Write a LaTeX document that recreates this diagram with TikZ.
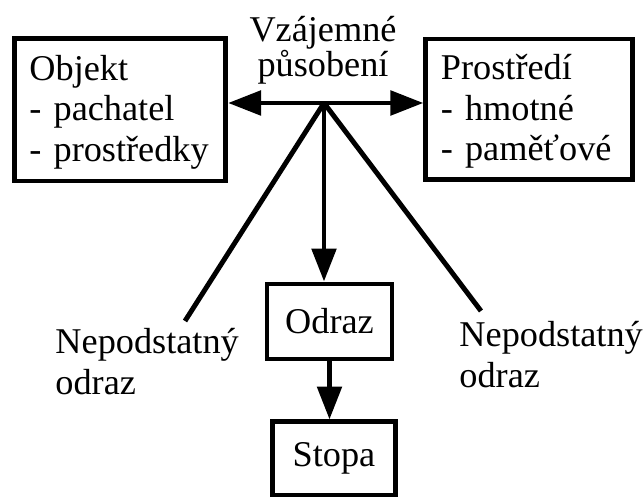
\documentclass[tikz,border=0pt]{standalone}
\usepackage{fontspec}
\setmainfont{Liberation Serif}
\usetikzlibrary{arrows.meta}
\newcommand{\firstline}{\rule{0pt}{10.6pt}}

\begin{document}
\begin{tikzpicture}[x=0.364pt,y=-0.364pt,line width=1.8pt,
  every node/.style={font=\fontsize{13.2}{14.7}\selectfont},
  box/.style={draw,rectangle,line width=1.8pt,inner sep=0pt},
  listbox/.style={box,align=left,inner xsep=5.5pt,inner ysep=0pt},
  sidetext/.style={inner sep=0pt,align=left,anchor=north west},
  pointer/.style={-{Triangle[length=12pt,width=8.8pt]}}]
\useasboundingbox (0,0) rectangle (643,498);
\node [listbox,text width=65.9pt,minimum height=51.7pt] (objekt) at (120,110)
  {\firstline Objekt\\- pachatel\\- prostředky};
\node [listbox,text width=64.1pt,minimum height=51.3pt] (prostredi) at (529,109.5)
  {\firstline Prostředí\\- hmotné\\- paměťové};
\node [align=center,inner sep=0pt,font=\fontsize{13.2}{12.9}\selectfont] (vzajemne) at (323,50.5)
  {Vzájemné\\působení};
\coordinate (stred) at (324,103);
\node [box,minimum width=45.5pt,minimum height=27.3pt] (odraz) at (329.5,321.5) {Odraz};
\node [box,minimum width=45pt,minimum height=26.6pt] (stopa) at (334,458.5) {Stopa};
\node [sidetext] (nlevy) at (53,326) {Nepodstatný\\odraz};
\node [sidetext] (npravy) at (457,319) {Nepodstatný\\odraz};
\coordinate (klevy) at (185,321);
\coordinate (kpravy) at (481,311);
\draw [pointer] (stred) -- (stred -| objekt.east);
\draw [pointer] (stred) -- (stred -| prostredi.west);
\draw [pointer] (stred) -- (stred |- odraz.north);
\draw [pointer] (odraz.south) -- (odraz.south |- stopa.north);
\draw (stred) -- (klevy);
\draw (stred) -- (kpravy);
\end{tikzpicture}
\end{document}
